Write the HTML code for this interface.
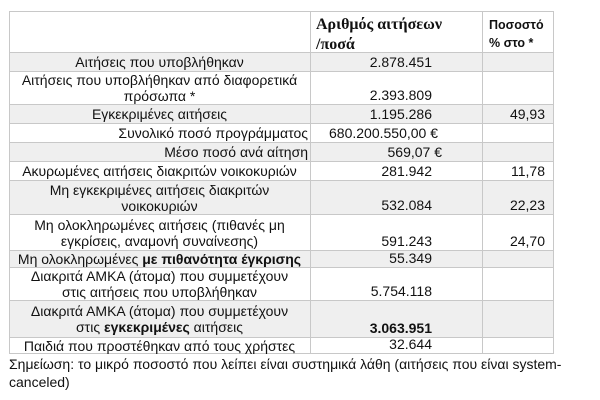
<!DOCTYPE html>
<html><head><meta charset="utf-8"><style>
body{margin:0;width:600px;height:400px;background:#fff;position:relative;overflow:hidden;font-family:"Liberation Sans","DejaVu Sans",sans-serif;font-size:14px;color:#111}
.r{position:absolute;left:9px;width:545px;border-bottom:1px solid #c8c8c8;box-sizing:border-box}
.g{background:#efefef}
.c{position:absolute;top:0;bottom:0;display:flex;flex-direction:column;justify-content:center;line-height:16px;white-space:nowrap}
.l{left:0;width:301px;text-align:center}
.v{left:301px;width:172px;text-align:right;justify-content:flex-end;padding-right:50px;box-sizing:border-box;padding-bottom:1px}
.p{left:473px;width:72px;text-align:right;justify-content:flex-end;padding-right:9px;box-sizing:border-box;padding-bottom:1px}
.vl{position:absolute;top:11px;height:343px;width:1px;background:#c8c8c8}
</style></head><body>
<div class="r" style="top:11px;height:42px;border-top:1px solid #c8c8c8">
 <div class="c" style="left:307px;top:3px;bottom:auto;font-family:'Liberation Serif',serif;font-weight:bold;font-size:16px;line-height:20px;text-align:left"><div>Αριθμός αιτήσεων<br>/ποσά</div></div>
 <div class="c" style="left:480px;top:4px;bottom:auto;font-weight:bold;font-size:12.5px;line-height:18px"><div>Ποσοστό<br>% στο *</div></div>
</div>
<div class="r g" style="top:53px;height:19px"><div class="c l"><div>Αιτήσεις που υποβλήθηκαν</div></div><div class="c v"><div>2.878.451</div></div></div>
<div class="r" style="top:72px;height:33px"><div class="c l"><div>Αιτήσεις που υποβλήθηκαν από διαφορετικά<br>πρόσωπα *</div></div><div class="c v"><div>2.393.809</div></div></div>
<div class="r g" style="top:105px;height:19px"><div class="c l"><div>Εγκεκριμένες αιτήσεις</div></div><div class="c v"><div>1.195.286</div></div><div class="c p"><div>49,93</div></div></div>
<div class="r" style="top:124px;height:19px"><div class="c l" style="text-align:right;padding-right:2px;box-sizing:border-box"><div>Συνολικό ποσό προγράμματος</div></div><div class="c v" style="padding-right:44px"><div>680.200.550,00 €</div></div></div>
<div class="r g" style="top:143px;height:19px"><div class="c l" style="text-align:right;padding-right:2px;box-sizing:border-box"><div>Μέσο ποσό ανά αίτηση</div></div><div class="c v" style="padding-right:40px"><div>569,07 €</div></div></div>
<div class="r" style="top:162px;height:19px"><div class="c l"><div>Ακυρωμένες αιτήσεις διακριτών νοικοκυριών</div></div><div class="c v"><div>281.942</div></div><div class="c p"><div>11,78</div></div></div>
<div class="r g" style="top:181px;height:34px"><div class="c l"><div>Μη εγκεκριμένες αιτήσεις διακριτών<br>νοικοκυριών</div></div><div class="c v"><div>532.084</div></div><div class="c p"><div>22,23</div></div></div>
<div class="r" style="top:215px;height:36px"><div class="c l"><div>Μη ολοκληρωμένες αιτήσεις (πιθανές μη<br>εγκρίσεις, αναμονή συναίνεσης)</div></div><div class="c v"><div>591.243</div></div><div class="c p"><div>24,70</div></div></div>
<div class="r g" style="top:251px;height:17px"><div class="c l"><div>Μη ολοκληρωμένες <b>με πιθανότητα έγκρισης</b></div></div><div class="c v"><div>55.349</div></div></div>
<div class="r" style="top:268px;height:33px"><div class="c l"><div>Διακριτά ΑΜΚΑ (άτομα) που συμμετέχουν<br>στις αιτήσεις που υποβλήθηκαν</div></div><div class="c v"><div>5.754.118</div></div></div>
<div class="r g" style="top:301px;height:37px"><div class="c l"><div>Διακριτά ΑΜΚΑ (άτομα) που συμμετέχουν<br>στις <b>εγκεκριμένες</b> αιτήσεις</div></div><div class="c v"><div><b>3.063.951</b></div></div></div>
<div class="r" style="top:338px;height:16px"><div class="c l"><div>Παιδιά που προστέθηκαν από τους χρήστες</div></div><div class="c v"><div>32.644</div></div></div>
<div class="vl" style="left:9px"></div>
<div class="vl" style="left:310px"></div>
<div class="vl" style="left:482px"></div>
<div class="vl" style="left:553px"></div>
<div style="position:absolute;left:9px;top:355px;width:591px;font-size:14px;line-height:18px;white-space:nowrap">Σημείωση: το μικρό ποσοστό που λείπει είναι συστημικά λάθη (αιτήσεις που είναι system-<br>canceled)</div>
</body></html>
